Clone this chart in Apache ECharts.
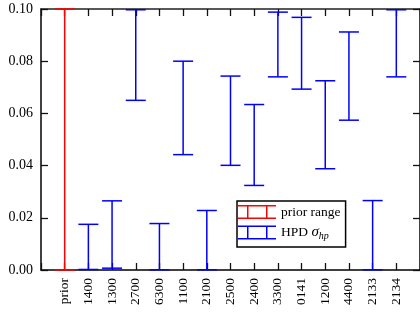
<!DOCTYPE html>
<html>
<head>
<meta charset="utf-8">
<script src="https://cdn.jsdelivr.net/npm/echarts@6/dist/echarts.min.js"></script>
<style>html,body{margin:0;padding:0;background:#fff}#container{width:420px;height:313px}</style>
</head>
<body>
<div id="container"></div>
<script>
// categories along x (first one is the prior)
var categories = ['prior','1400','1300','2700','6300','1100','2100','2500','2400','3300','0141','1200','4400','2133','2134'];
// lower / upper ends of each bar
var lows  = [0.0000, 0.0002, 0.0007, 0.0650, 0.0001, 0.0442, 0.0001, 0.0401, 0.0324, 0.0740, 0.0693, 0.0388, 0.0574, 0.0001, 0.0740];
var highs = [0.1000, 0.0175, 0.0265, 0.0997, 0.0178, 0.0800, 0.0228, 0.0743, 0.0634, 0.0988, 0.0968, 0.0725, 0.0912, 0.0266, 0.0997];
var yTicks = ['0.00','0.02','0.04','0.06','0.08','0.10'];

var priorData = [[1, lows[0], highs[0]]];
var hpdData = [];
for (var i = 1; i < categories.length; i++) {
    hpdData.push([i + 1, lows[i], highs[i]]);
}

var serif = 'Liberation Serif';

function tick() {
    return {show: true, inside: true, length: 7, lineStyle: {color: '#111', width: 1.3}};
}
function spine(c) {
    return {show: true, onZero: false, lineStyle: {color: c, width: 1.5}};
}

function errorBar(params, api) {
    var x = api.value(0);
    var lo = api.coord([x, api.value(1)]);
    var hi = api.coord([x, api.value(2)]);
    var half = 10;
    var st = {stroke: api.visual('color'), lineWidth: 1.5};
    return {type: 'group', children: [
        {type: 'line', shape: {x1: lo[0], y1: lo[1], x2: hi[0], y2: hi[1]}, style: st},
        {type: 'line', shape: {x1: lo[0] - half, y1: lo[1], x2: lo[0] + half, y2: lo[1]}, style: st},
        {type: 'line', shape: {x1: hi[0] - half, y1: hi[1], x2: hi[0] + half, y2: hi[1]}, style: st}
    ]};
}

var icon = 'path://M0,0h38v1.5H0z M0,12.5h38V14H0z M9,0h1.5v14H9z M28,0h1.5v14H28z';

var myChart = echarts.init(document.getElementById('container'));
myChart.setOption({
    animation: false,
    grid: {left: 41, top: 9, width: 380, height: 261},
    legend: {
        orient: 'vertical',
        left: 237, top: 201,
        itemWidth: 38, itemHeight: 14, itemGap: 6,
        padding: [4, 5, 6, 1],
        borderColor: '#000', borderWidth: 1.5, borderRadius: 0,
        backgroundColor: '#fff',
        textStyle: {fontFamily: serif, fontSize: 13.5, color: '#000',
            rich: {
                n: {fontFamily: serif, fontSize: 13.5, color: '#000'},
                s: {fontFamily: serif, fontSize: 15, fontStyle: 'italic', color: '#000'},
                sub: {fontFamily: serif, fontSize: 10, fontStyle: 'italic', color: '#000', padding: [7, 0, 0, 0]}
            }},
        formatter: function (name) {
            if (name === 'HPD') return '{n|HPD }{s|σ}{sub|hp}';
            return name;
        },
        data: [
            {name: 'prior range', icon: icon, itemStyle: {color: '#ff0000', borderWidth: 0}},
            {name: 'HPD', icon: icon, itemStyle: {color: '#0000ff', borderWidth: 0}}
        ]
    },
    xAxis: [{
        type: 'value', min: 0, max: 16, interval: 1,
        axisLine: spine('#000'),
        axisTick: tick(),
        splitLine: {show: false},
        axisLabel: {rotate: 90, margin: 8, fontFamily: serif, fontSize: 13.5, color: '#000',
            formatter: function (v) { return categories[v - 1] || ''; }}
    }, {
        type: 'value', min: 0, max: 16, interval: 1, position: 'top',
        axisLine: spine('#222'),
        axisTick: tick(),
        splitLine: {show: false},
        axisLabel: {show: false}
    }],
    yAxis: [{
        type: 'value', min: 0, max: 0.1, interval: 0.02,
        axisLine: spine('#000'),
        axisTick: tick(),
        splitLine: {show: false},
        axisLabel: {margin: 8, fontFamily: serif, fontSize: 14, color: '#000',
            formatter: function (v) { return yTicks[Math.round(v / 0.02)]; }}
    }, {
        type: 'value', min: 0, max: 0.1, interval: 0.02, position: 'right',
        axisLine: spine('#000'),
        axisTick: tick(),
        splitLine: {show: false},
        axisLabel: {show: false}
    }],
    series: [{
        name: 'prior range', type: 'custom', clip: false,
        itemStyle: {color: '#ff0000'},
        renderItem: errorBar,
        encode: {x: 0, y: [1, 2]},
        data: priorData
    }, {
        name: 'HPD', type: 'custom', clip: false,
        itemStyle: {color: '#0000ff'},
        renderItem: errorBar,
        encode: {x: 0, y: [1, 2]},
        data: hpdData
    }]
});
</script>
</body>
</html>
